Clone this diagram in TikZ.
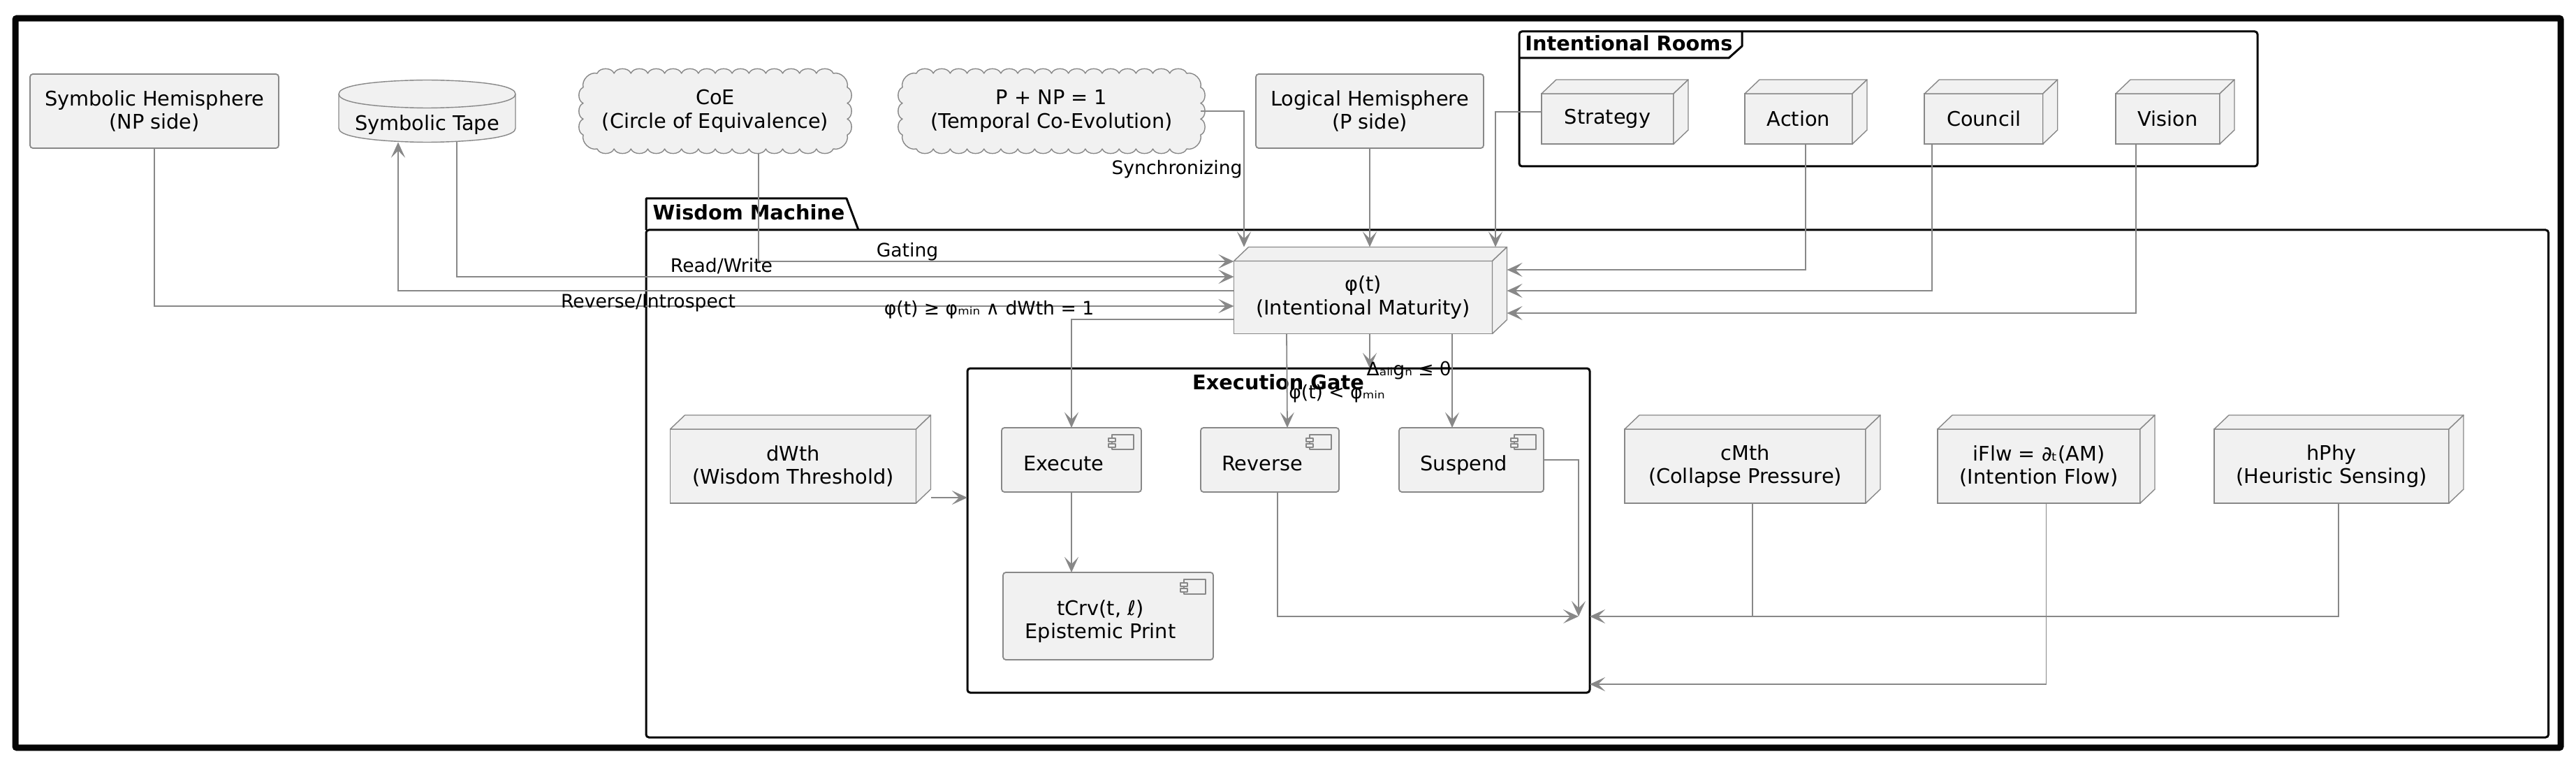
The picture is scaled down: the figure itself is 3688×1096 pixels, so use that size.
\documentclass[tikz,border=0pt]{standalone}
\usepackage{fontspec}
\setmainfont{DejaVu Sans}
\usepackage{tikz}
\usetikzlibrary{shapes.geometric, arrows.meta, backgrounds}
\definecolor{linegray}{HTML}{888888}
\definecolor{boxgray}{HTML}{F1F1F1}
\definecolor{inkblack}{HTML}{050505}
\newcommand{\boxfont}{\fontsize{14.4pt}{16.8pt}\selectfont}
\newcommand{\lblfont}{\fontsize{13.3pt}{15pt}\selectfont}
\newcommand{\comptext}[1]{\raisebox{-8pt}[0pt][0pt]{\begin{tabular}{@{}c@{}}#1\end{tabular}}\hspace{11pt}}
\newcommand{\cloudline}[3]{
\filldraw [facebox] ([xshift=10pt]#1.north west)
foreach \i in {1,...,#2} { to[bend left=70] ++(#3,0pt) } to[bend left=60] ++(10pt,-10pt)
foreach \i in {1,2,3} { to[bend left=70] ++(0pt,-11.33pt) } to[bend left=60] ++(-10pt,-10pt)
foreach \i in {1,...,#2} { to[bend left=70] ++(-#3,0pt) } to[bend left=60] ++(-10pt,10pt)
foreach \i in {1,2,3} { to[bend left=70] ++(0pt,11.33pt) } to[bend left=60] ++(10pt,10pt) -- cycle;
}
\tikzstyle{hemibox} = [rectangle, 
rounded corners=2pt, 
minimum width=178pt, 
minimum height=53pt, 
inner sep=0pt, outer sep=0pt, 
align=center, 
draw=linegray, line width=0.9pt, 
fill=boxgray]
\tikzstyle{cubebox} = [rectangle, 
minimum width=176pt, 
minimum height=53pt, 
inner sep=0pt, outer sep=0pt, 
align=center, 
draw=linegray, line width=0.9pt, 
fill=boxgray]
\tikzstyle{compbox} = [rectangle, 
rounded corners=2pt, 
minimum height=46pt, 
inner sep=0pt, outer sep=0pt, 
align=center, 
draw=linegray, line width=0.9pt, 
fill=boxgray]
\tikzstyle{cloudbox} = [rectangle, 
minimum height=54pt, 
inner sep=0pt, outer sep=0pt, 
align=center]
\tikzstyle{tapebox} = [rectangle, 
minimum width=126.5pt, 
minimum height=44.5pt, 
inner sep=0pt, outer sep=0pt]
\tikzstyle{facebox} = [draw=linegray, line width=0.7pt, fill=boxgray, line join=round]
\tikzstyle{pkgbox} = [rectangle, rounded corners=2pt, inner sep=0pt, outer sep=0pt, draw=inkblack, line width=1.5pt]
\tikzstyle{pkgline} = [draw=inkblack, line width=1.5pt, line join=round]
\tikzstyle{pkgtext} = [inner sep=0pt, font=\boxfont\bfseries]
\tikzstyle{lbl} = [inner sep=0pt, font=\lblfont]
\tikzstyle{flow} = [draw=linegray, line width=0.9pt, -{Stealth[length=11pt, width=10pt, inset=5pt]}]
\tikzstyle{wire} = [draw=linegray, line width=0.9pt]

\begin{document}
\begin{tikzpicture}[x=0.5pt, y=-0.5pt, node distance=100pt]
\tikzstyle{every node}=[font=\boxfont]
\useasboundingbox (0,0) rectangle (3688,1096);
\node (frame) [rectangle, inner sep=0pt, minimum width=1822pt, minimum height=521.75pt, draw=inkblack, line width=4.5pt, rounded corners=1pt] at (1844,548) {};

% containers
\node (wisdom) [pkgbox, minimum width=1361.75pt, minimum height=363pt] at (2286.75,692) {};
\draw [pkgline] (wisdom.north west) -- ++(0pt,22.5pt) -- ++(143.5pt,0pt) -- ++(8.5pt,-22.5pt);
\node (wisdomTitle) [pkgtext] at (1072,304) {Wisdom Machine};
\node (rooms) [pkgbox, minimum width=528.5pt, minimum height=96.5pt] at (2703.5,141.5) {};
\draw [pkgline] ([yshift=-19pt]rooms.north west) -- ++(150pt,0pt) -- ++(9.5pt,8.5pt) -- ++(0pt,10.5pt);
\node (roomsTitle) [pkgtext] at (2332,62) {Intentional Rooms};
\node (gate) [pkgbox, minimum width=445.5pt, minimum height=232pt] at (1830.5,759) {};
\node (gateTitle) [pkgtext] at (1830,547) {Execution Gate};

% top row
\node (hemiSym) [hemibox] at (221,159) {Symbolic Hemisphere\\(NP side)};
\node (tape) [tapebox, right of=hemiSym, xshift=95.25pt] {\raisebox{-14pt}[0pt][0pt]{Symbolic Tape}};
\node (coe) [cloudbox, minimum width=189pt, right of=tape, xshift=106.25pt] {CoE\\(Circle of Equivalence)};
\node (pnp) [cloudbox, minimum width=213.5pt, right of=coe, xshift=140.75pt] {P + NP = 1\\(Temporal Co-Evolution)};
\node (hemiLog) [hemibox, minimum width=163pt, right of=pnp, xshift=127.75pt] {Logical Hemisphere\\(P side)};

% rooms
\node (strategy) [cubebox, minimum width=94.5pt, minimum height=36pt] at (2301.5,170) {Strategy};
\node (action) [cubebox, minimum width=77pt, minimum height=36pt, right of=strategy, xshift=36.75pt] {Action};
\node (council) [cubebox, minimum width=84.75pt, minimum height=36pt, right of=action, xshift=32.5pt] {Council};
\node (vision) [cubebox, minimum width=74.5pt, minimum height=36pt, right of=council, xshift=31.75pt] {Vision};

% machine
\node (phi) [cubebox, minimum width=185pt, minimum height=52pt] at (1951.5,425.5) {φ(t)\\(Intentional Maturity)};
\node (dwth) [cubebox] at (1135.5,667) {dWth\\(Wisdom Threshold)};
\node (cmth) [cubebox, minimum width=172.5pt] at (2498.5,667) {cMth\\(Collapse Pressure)};
\node (iflw) [cubebox, minimum width=145pt, right of=cmth, xshift=110.25pt] {iFlw = ∂ₜ(AM)\\(Intention Flow)};
\node (hphy) [cubebox, minimum width=168pt, right of=iflw, xshift=109.5pt] {hPhy\\(Heuristic Sensing)};
\node (execute) [compbox, minimum width=100pt] at (1534,658) {\comptext{Execute}};
\node (reverse) [compbox, minimum width=99pt, right of=execute, xshift=42pt] {\comptext{Reverse}};
\node (suspend) [compbox, minimum width=103.5pt, right of=reverse, xshift=44.25pt] {\comptext{Suspend}};
\node (tcrv) [compbox, minimum width=150.5pt, minimum height=62.5pt, below of=execute, xshift=26.25pt, yshift=-11.75pt] {\comptext{tCrv(t, ℓ)\\Epistemic Print}};
\coordinate (merge) at (2260,882);

\foreach \n in {strategy, action, council, vision, phi, dwth, cmth, iflw, hphy} {
\draw [facebox] (\n.north west) -- ++(10.5pt,10pt) -- ([shift={(10.5pt,10pt)}]\n.north east) -- (\n.north east) -- cycle;
\draw [facebox] (\n.north east) -- ++(10.5pt,10pt) -- ([shift={(10.5pt,10pt)}]\n.south east) -- (\n.south east) -- cycle;
}
\foreach \n in {execute, reverse, suspend, tcrv} {
\draw [facebox] ([shift={(-21pt,-5pt)}]\n.north east) rectangle ++(15.5pt,-10.5pt);
\draw [facebox] ([shift={(-23.5pt,-7.5pt)}]\n.north east) rectangle ++(5pt,-2.5pt);
\draw [facebox] ([shift={(-23.5pt,-11.5pt)}]\n.north east) rectangle ++(5pt,-2.5pt);
}
\begin{scope}[on background layer]
\filldraw [facebox] ([yshift=-10pt]tape.north west) .. controls (tape.north west) and (tape.north) .. (tape.north) .. controls (tape.north) and (tape.north east) .. ([yshift=-10pt]tape.north east) -- ([yshift=10pt]tape.south east) .. controls (tape.south east) and (tape.south) .. (tape.south) .. controls (tape.south) and (tape.south west) .. ([yshift=10pt]tape.south west) -- cycle;
\draw [facebox, fill=none] ([yshift=-10pt]tape.north west) .. controls ([yshift=-20pt]tape.north west) and ([yshift=-20pt]tape.north) .. ([yshift=-20pt]tape.north) .. controls ([yshift=-20pt]tape.north) and ([yshift=-20pt]tape.north east) .. ([yshift=-10pt]tape.north east);
\cloudline{coe}{14}{12.07pt}
\cloudline{pnp}{16}{12.09pt}
\end{scope}

\draw [flow] (hemiSym.south) |- ([yshift=-6.25pt]phi.west);
\draw [flow] ([xshift=21.25pt]tape.south) |- ([yshift=14.75pt]phi.west);
\draw [flow] ([yshift=4.75pt]phi.west) -| ([xshift=-20.75pt]tape.south);
\draw [flow] ([xshift=31pt, yshift=-3pt]coe.south) |- ([yshift=25.75pt]phi.west);
\draw [flow] (pnp.east) -| ([xshift=-85.25pt, yshift=10pt]phi.north);
\draw [flow] (hemiLog.south) -- ([xshift=4.75pt, yshift=10pt]phi.north);
\draw [flow] ([yshift=5pt]strategy.west) -| ([xshift=94.75pt, yshift=10pt]phi.north);
\draw [flow] ([xshift=5pt]action.south) |- ([shift={(10.5pt,19.75pt)}]phi.east);
\draw [flow] ([xshift=-37pt]council.south) |- ([shift={(10.5pt,4.75pt)}]phi.east);
\draw [flow] ([xshift=-22.75pt]vision.south) |- ([shift={(10.5pt,-11.25pt)}]phi.east);
\draw [flow] ([yshift=-15.75pt]phi.west) -| (execute.north);
\draw [flow] ([xshift=-54.75pt]phi.south) -- ([xshift=12.5pt]reverse.north);
\draw [flow] ([xshift=4.75pt]phi.south) -- ([xshift=65.25pt]gate.north);
\draw [flow] ([xshift=63.75pt]phi.south) -- ([xshift=-13.75pt]suspend.north);
\draw [flow] (execute.south) -- ([xshift=-26.25pt]tcrv.north);
\draw [flow] ([shift={(10.5pt,-22.5pt)}]dwth.east) -- ([yshift=23.5pt]gate.west);
\draw [flow] ([xshift=5.5pt]reverse.south) |- (merge);
\draw [flow] (suspend.east) -| (merge);
\draw [flow] ([xshift=5.25pt]cmth.south) |- ([yshift=-61.5pt]gate.east);
\draw [wire] ([xshift=5pt]hphy.south) |- ([xshift=5.25pt, yshift=-81pt]cmth.south);
\draw [flow] ([xshift=5.25pt]iflw.south) |- ([yshift=-110pt]gate.east);

\node (lblGating) [lbl] at (1299,360) {Gating};
\node (lblRead) [lbl] at (1033,381) {Read/Write};
\node (lblReverse) [lbl] at (928,434) {Reverse/Introspect};
\node (lblEnter) [lbl] at (1416,443) {φ(t) ≥ φₘᵢₙ ∧ dWth = 1};
\node (lblSync) [lbl] at (1685,242) {Synchronizing};
\node (lblBelow) [lbl] at (1914,563) {φ(t) < φₘᵢₙ};
\node (lblAlign) [lbl] at (2017,530) {Δₐₗᵢgₙ ≤ θ};
\end{tikzpicture}
\end{document}
